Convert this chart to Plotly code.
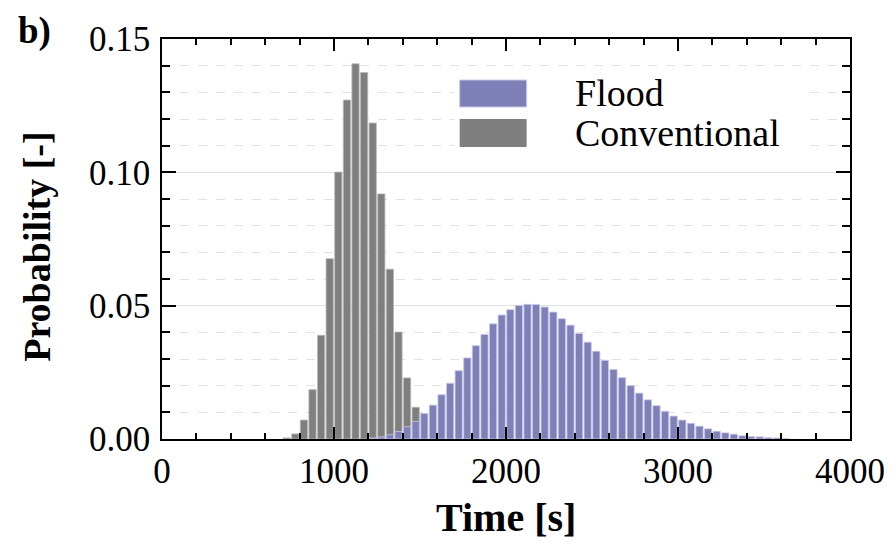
import plotly.graph_objects as go

# ---- data (bin centres in s, probability) ----
conv_time = [725, 775, 825, 875, 925, 975, 1025, 1075, 1125, 1175, 1225, 1275,
             1325, 1375, 1425, 1475]
conv_prob = [0.0004, 0.0019, 0.0071, 0.0185, 0.0389, 0.0676, 0.1001, 0.1271,
             0.1407, 0.1374, 0.1185, 0.0919, 0.0637, 0.0401, 0.0229, 0.0119]

flood_time = [1225, 1275, 1325, 1375, 1425, 1475, 1525, 1575, 1625, 1675, 1725,
              1775, 1825, 1875, 1925, 1975, 2025, 2075, 2125, 2175, 2225, 2275,
              2325, 2375, 2425, 2475, 2525, 2575, 2625, 2675, 2725, 2775, 2825,
              2875, 2925, 2975, 3025, 3075, 3125, 3175, 3225, 3275, 3325, 3375,
              3425, 3475, 3525, 3575, 3625]
flood_prob = [0.0004, 0.0008, 0.0016, 0.0028, 0.0046, 0.0066, 0.0096, 0.0127,
              0.0166, 0.0209, 0.0256, 0.0304, 0.0350, 0.0392, 0.0432, 0.0465,
              0.0485, 0.0501, 0.0505, 0.0504, 0.0495, 0.0476, 0.0451, 0.0427,
              0.0396, 0.0363, 0.0329, 0.0295, 0.0261, 0.0230, 0.0200, 0.0172,
              0.0147, 0.0125, 0.0104, 0.0086, 0.0071, 0.0059, 0.0048, 0.0038,
              0.0029, 0.0023, 0.0018, 0.0012, 0.0009, 0.0008, 0.0005, 0.0004,
              0.0002]

x_ticks = [0, 1000, 2000, 3000, 4000]
y_ticks = [0.00, 0.05, 0.10, 0.15]
y_tick_text = ["0.00", "0.05", "0.10", "0.15"]

legend_names = ["Flood", "Conventional"]
FLOOD_COLOR = "#8080B8"
CONV_COLOR = "#7F7F7F"
FONT = "Liberation Serif"

fig = go.Figure()
fig.add_trace(go.Bar(x=conv_time, y=conv_prob, width=42, name=legend_names[1],
                     marker=dict(color=CONV_COLOR, line=dict(color="#B8B8B8", width=0.8)),
                     showlegend=False))
fig.add_trace(go.Bar(x=flood_time, y=flood_prob, width=42, name=legend_names[0],
                     marker=dict(color=FLOOD_COLOR, line=dict(color="#C8C8E8", width=0.8)),
                     showlegend=False))

axis_common = dict(showline=True, linecolor="black", linewidth=1.5, mirror="ticks",
                   ticks="inside", tickcolor="black", tickwidth=1.5,
                   tickfont=dict(family=FONT, size=35, color="black"),
                   zeroline=False)

fig.update_xaxes(range=[0, 4000], tickvals=x_ticks, ticklen=12, showgrid=False,
                 minor=dict(dtick=200, ticks="inside", ticklen=6, tickcolor="black",
                            tickwidth=1.5, showgrid=False),
                 ticklabelstandoff=0, **axis_common)
fig.update_yaxes(range=[0, 0.15], tickvals=y_ticks, ticktext=y_tick_text, ticklen=14,
                 showgrid=True, gridcolor="#E0E0E0", gridwidth=1,
                 minor=dict(dtick=0.01, ticks="inside", ticklen=8, tickcolor="black",
                            tickwidth=1.5, showgrid=True, gridcolor="#E2E2E2",
                            griddash="dash", gridwidth=1),
                 ticklabelstandoff=3, **axis_common)

# manual legend (large swatches like the original)
shapes = [
    dict(type="rect", xref="paper", yref="paper", x0=0.425, x1=0.93, y0=0.715, y1=0.925,
         fillcolor="white", line=dict(width=0), layer="above"),
    dict(type="rect", xref="paper", yref="paper", x0=0.4327, x1=0.530, y0=0.83, y1=0.8975,
         fillcolor=FLOOD_COLOR, line=dict(color="#C8C8E8", width=1), layer="above"),
    dict(type="rect", xref="paper", yref="paper", x0=0.4327, x1=0.530, y0=0.73, y1=0.80,
         fillcolor=CONV_COLOR, line=dict(width=0), layer="above"),
]
annotations = [
    dict(text=legend_names[0], xref="paper", yref="paper", x=0.598, y=0.864,
         xanchor="left", yanchor="middle", showarrow=False,
         font=dict(family=FONT, size=38, color="black")),
    dict(text=legend_names[1], xref="paper", yref="paper", x=0.598, y=0.765,
         xanchor="left", yanchor="middle", showarrow=False,
         font=dict(family=FONT, size=38, color="black")),
    dict(text="<b>b)</b>", xref="paper", yref="paper", x=-0.185, y=1.0775,
         xanchor="center", yanchor="top", showarrow=False,
         font=dict(family=FONT, size=37, color="black")),
    dict(text="<b>Time [s]</b>", xref="paper", yref="paper", x=0.5, y=-0.258,
         xanchor="center", yanchor="bottom", showarrow=False,
         font=dict(family=FONT, size=40, color="black")),
    dict(text="<b>Probability [-]</b>", xref="paper", yref="paper", x=-0.182, y=0.48,
         xanchor="center", yanchor="middle", showarrow=False, textangle=-90,
         font=dict(family=FONT, size=38, color="black")),
]

# the page places the figure 8 px from its top-left corner; margins compensate
fig.update_layout(
    width=896, height=544,
    margin=dict(l=154, r=54, t=31, b=113),
    barmode="overlay",
    plot_bgcolor="white", paper_bgcolor="white",
    shapes=shapes, annotations=annotations,
    showlegend=False,
)

fig.write_html("out.html")
